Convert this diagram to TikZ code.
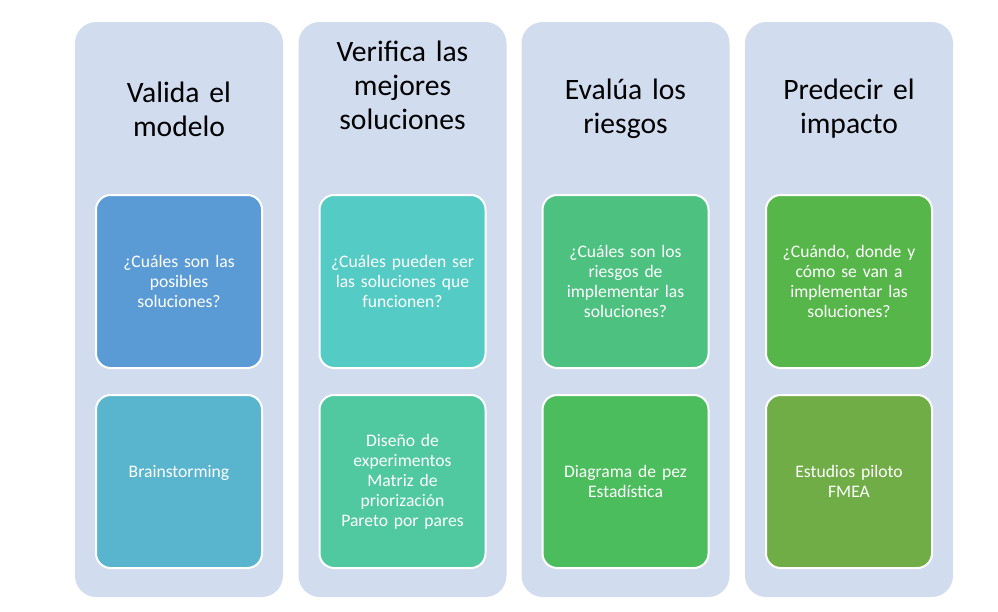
\documentclass[tikz,border=0pt]{standalone}
\usepackage{fontspec}
\setmainfont{Carlito}
\usetikzlibrary{positioning}
\definecolor{panelfill}{HTML}{D1DCEE}
\definecolor{blueA}{HTML}{5B9BD5}
\definecolor{blueB}{HTML}{58B5CD}
\definecolor{tealA}{HTML}{54CBC4}
\definecolor{tealB}{HTML}{50C8A0}
\definecolor{greenA}{HTML}{4DC17F}
\definecolor{greenB}{HTML}{4BBD5C}
\definecolor{leafA}{HTML}{56B64A}
\definecolor{leafB}{HTML}{70AD47}
\tikzset{
  panel/.style = {fill=panelfill, rounded corners=16pt, minimum width=156pt,
    minimum height=431.25pt, inner sep=0pt},
  title/.style = {text width=160pt, align=center, inner sep=0pt,
    font=\fontsize{22.2}{25.5}\selectfont},
  card/.style = {draw=white, line width=1.5pt, rounded corners=11pt,
    minimum width=124.5pt, minimum height=129.75pt, text width=116pt,
    align=center, inner sep=0pt, text=white,
    font=\fontsize{13.2}{15}\selectfont},
}
\begin{document}
\begin{tikzpicture}[x=0.75pt, y=-0.75pt]
			\useasboundingbox (0,0) rectangle (998,611);
			\def\top{281.5};
			\def\bot{481.5};

			% panels
			\node[panel] (p1) at (179,309.5) {};
			\node[panel] (p2) at (402.5,309.5) {};
			\node[panel] (p3) at (625.5,309.5) {};
			\node[panel] (p4) at (849,309.5) {};

			% titles
			\node[title] (t1) at (179,109) {Valida el\\modelo};
			\node[title] (t2) at (402.5,85) {Verifica las\\mejores\\soluciones};
			\node[title] (t3) at (625.5,109) {Evalúa los\\riesgos};
			\node[title] (t4) at (849,109) {Predecir el\\impacto};

			% cards
			\node[card, fill=blueA] (q1) at (179,\top) {¿Cuáles son las\\posibles\\soluciones?};
			\node[card, fill=blueB] (a1) at (179,\bot) {Brainstorming\\\mbox{}};

			\node[card, fill=tealA] (q2) at (402.5,\top) {¿Cuáles pueden ser\\las soluciones que\\funcionen?};
			\node[card, fill=tealB] (a2) at (402.5,\bot) {Diseño de\\experimentos\\Matriz de\\priorización\\Pareto por pares};

			\node[card, fill=greenA] (q3) at (625.5,\top) {¿Cuáles son los\\riesgos de\\implementar las\\soluciones?};
			\node[card, fill=greenB] (a3) at (625.5,\bot) {Diagrama de pez\\Estadística};

			\node[card, fill=leafA] (q4) at (849,\top) {¿Cuándo, donde y\\cómo se van a\\implementar las\\soluciones?};
			\node[card, fill=leafB] (a4) at (849,\bot) {Estudios piloto\\FMEA};
		\end{tikzpicture}
\end{document}
